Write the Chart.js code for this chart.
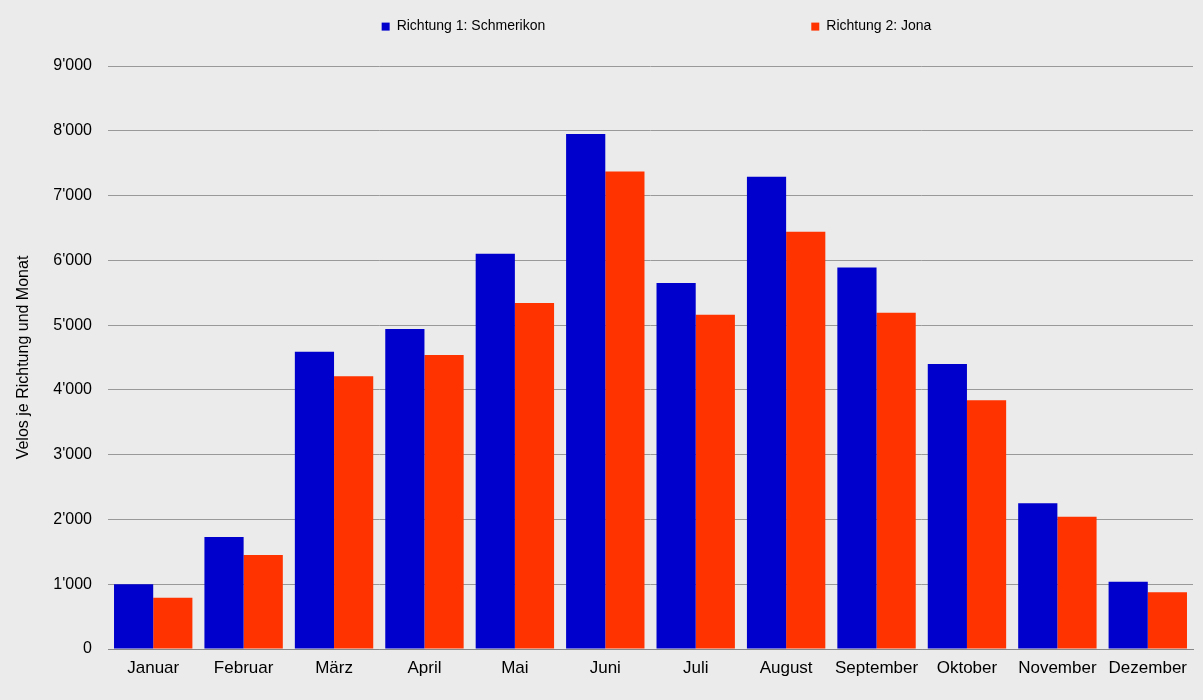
<!DOCTYPE html>
<html>
<head>
<meta charset="utf-8">
<script src="https://cdn.jsdelivr.net/npm/chart.js@4/dist/chart.umd.min.js"></script>
<style>
    html, body { margin: 0; padding: 0; background: #ebebeb; }
    #wrap { width: 1203px; height: 700px; }
</style>
</head>
<body>
<div id="wrap"><canvas id="veloChart" width="1203" height="700"></canvas></div>
<script>
const months = ['Januar', 'Februar', 'März', 'April', 'Mai', 'Juni', 'Juli', 'August', 'September', 'Oktober', 'November', 'Dezember'];
const schmerikon = [1000, 1730, 4590, 4940, 6100, 7950, 5650, 7290, 5890, 4400, 2250, 1040];
const jona = [790, 1450, 4210, 4540, 5340, 7370, 5160, 6440, 5190, 3840, 2040, 875];

const LEGEND_GAP = 266;
const LEGEND_FONT = 14;

// the wide gap between legend items also pads the legend vertically,
// so cap its height and pull it back up; widen the box so it stays on one line
const legendOverPlot = {
    id: 'legendOverPlot',
    afterLayout(chart) {
        const lg = chart.legend;
        lg.left = chart.chartArea.left - 55;
        lg.right = chart.chartArea.right + 67;
        lg.top = 28 - LEGEND_GAP - (LEGEND_FONT * 1.2) / 2;
    }
};

const fmt = v => {
    const s = String(v);
    return s.length > 3 ? s.slice(0, -3) + "'" + s.slice(-3) : s;
};

new Chart(document.getElementById('veloChart'), {
    type: 'bar',
    data: {
        labels: months,
        datasets: [
            {
                label: 'Richtung 1: Schmerikon',
                data: schmerikon,
                backgroundColor: '#0000cc'
            },
            {
                label: 'Richtung 2: Jona',
                data: jona,
                backgroundColor: '#ff3300'
            }
        ]
    },
    options: {
        responsive: false,
        animation: false,
        layout: { padding: { left: 0, right: 10, top: 16, bottom: 0 } },
        datasets: {
            bar: { categoryPercentage: 0.867, barPercentage: 1.0 }
        },
        plugins: {
            tooltip: { enabled: false },
            legend: {
                position: 'top',
                maxHeight: 50,
                labels: {
                    color: '#000',
                    font: { family: 'Liberation Sans, Arial', size: LEGEND_FONT },
                    boxWidth: 8,
                    boxHeight: 8,
                    padding: LEGEND_GAP
                }
            }
        },
        scales: {
            x: {
                afterFit: scale => { scale.height = 51; },
                grid: { display: false, drawTicks: false },
                border: { color: '#888', width: 1 },
                ticks: {
                    color: '#000',
                    padding: 9,
                    font: { family: 'Liberation Sans, Arial', size: 17 }
                }
            },
            y: {
                min: 0,
                max: 9000,
                afterFit: scale => { scale.width = 108; },
                border: { display: false },
                grid: { color: '#999', drawTicks: false },
                ticks: {
                    stepSize: 1000,
                    color: '#000',
                    padding: 16,
                    font: { family: 'Liberation Sans, Arial', size: 16 },
                    callback: v => fmt(v)
                },
                title: {
                    display: true,
                    text: 'Velos je Richtung und Monat',
                    color: '#000',
                    padding: { top: 14, bottom: 0 },
                    font: { family: 'Liberation Sans, Arial', size: 16 }
                }
            }
        }
    },
    plugins: [legendOverPlot]
});
</script>
</body>
</html>
